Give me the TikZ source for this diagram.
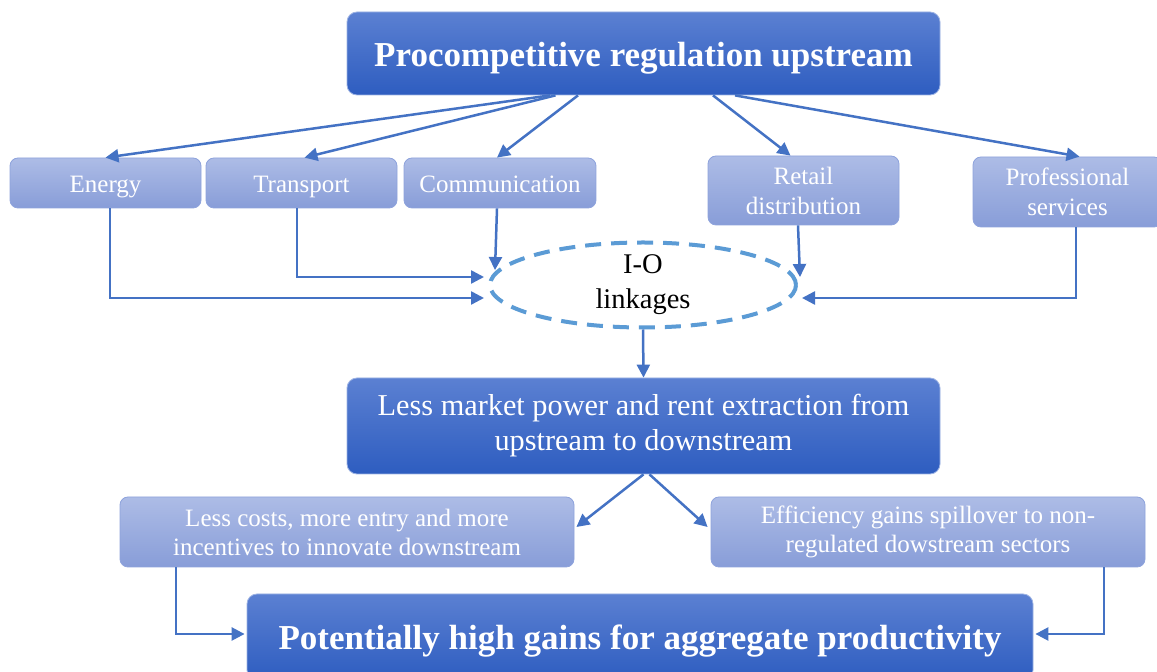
\documentclass[tikz,border=0pt]{standalone}
\usepackage{fontspec}
\setmainfont{Liberation Serif}
\usetikzlibrary{arrows.meta,shapes.geometric}
\definecolor{dtop}{HTML}{5B80D2}
\definecolor{dbot}{HTML}{2E5DC0}
\definecolor{ltop}{HTML}{ADBCE6}
\definecolor{lbot}{HTML}{889DD8}
\definecolor{lborder}{HTML}{8EA3DC}
\definecolor{arrc}{HTML}{4472C4}
\definecolor{ioc}{HTML}{5B9BD5}
\tikzset{
  darkbox/.style={rounded corners=10pt, top color=dtop, bottom color=dbot, draw=dtop!60!white, line width=0.8pt, text=white, inner sep=0pt, align=center},
  lightbox/.style={rounded corners=8pt, top color=ltop, bottom color=lbot, draw=lborder, line width=0.8pt, text=white, inner sep=0pt, align=center, font=\fontsize{25}{30}\selectfont},
  oneline/.style={text height=#1, text depth=0pt},
  arr/.style={draw=arrc, line width=2.5pt, -{Triangle[length=13pt,width=13pt]}},
}
\begin{document}
\begin{tikzpicture}[x=1pt,y=1pt]
\useasboundingbox (0,0) rectangle (1157,672);
\fill[white] (0,0) rectangle (1157,672);
% nodes
\node[darkbox, oneline=26pt, minimum width=593pt, minimum height=83pt, font=\bfseries\fontsize{35}{40}\selectfont] (top) at (643.5,618.5) {Procompetitive regulation upstream};
\node[lightbox, oneline=19.5pt, minimum width=191pt, minimum height=50pt] (energy) at (105.5,489) {Energy};
\node[lightbox, oneline=19.5pt, minimum width=191pt, minimum height=50pt] (transport) at (301.5,489) {Transport};
\node[lightbox, oneline=19.5pt, minimum width=192pt, minimum height=50pt] (comm) at (500,489) {Communication};
\node[lightbox, minimum width=191pt, minimum height=69pt] (retail) at (803.5,481.5) {Retail\\distribution};
\node[lightbox, minimum width=189pt, minimum height=70pt] (prof) at (1067.5,480) {Professional\\services};
\node[ellipse, draw=ioc, line width=4pt, dash pattern=on 16pt off 10pt, minimum width=306pt, minimum height=85pt, inner sep=0pt, align=center, font=\fontsize{28.5}{35}\selectfont] (io) at (643,387) {I-O\\linkages};
\node[darkbox, minimum width=593pt, minimum height=96pt, font=\fontsize{30.3}{35}\selectfont] (mid) at (643.5,246) {Less market power and rent extraction from\\upstream to downstream};
\node[lightbox, minimum width=454pt, minimum height=70pt, font=\fontsize{25}{29}\selectfont] (lowleft) at (347,140) {Less costs, more entry and more\\incentives to innovate downstream};
\node[lightbox, minimum width=434pt, minimum height=70pt, font=\fontsize{25}{29}\selectfont] (lowright) at (928,140) {Efficiency gains spillover to non-\\regulated dowstream sectors};
\node[darkbox, oneline=26pt, minimum width=786pt, minimum height=86pt, font=\bfseries\fontsize{35}{40}\selectfont] (bottom) at (640,35) {Potentially high gains for aggregate productivity};
% connectors from top
\draw[arr] ([xshift=-93.5pt]top.south) -- (energy.north);
\draw[arr] ([xshift=-88pt]top.south) -- ([xshift=3pt]transport.north);
\draw[arr] ([xshift=-65.5pt]top.south) -- ([xshift=-3pt]comm.north);
\draw[arr] ([xshift=69.5pt]top.south) -- ([xshift=-13pt]retail.north);
\draw[arr] ([xshift=91.5pt]top.south) -- ([xshift=12pt]prof.north);
% into I-O linkages
\draw[arr] ([xshift=4.5pt]energy.south) |- ([shift={(-4pt,-13pt)}]io.west);
\draw[arr] ([xshift=-4.5pt]transport.south) |- ([shift={(-4pt,8pt)}]io.west);
\draw[arr] ([xshift=-3pt]comm.south) -- ([shift={(7pt,15pt)}]io.west);
\draw[arr] ([xshift=-5.5pt]retail.south) -- ([shift={(2pt,8pt)}]io.east);
\draw[arr] ([xshift=8.5pt]prof.south) |- ([shift={(4pt,-13pt)}]io.east);
% down the chain
\draw[arr] (io.south) -- (mid.north);
\draw[arr] (mid.south) -- ([shift={(2pt,5pt)}]lowleft.east);
\draw[arr] ([xshift=6pt]mid.south) -- ([shift={(-3pt,5pt)}]lowright.west);
\draw[arr] ([xshift=-171pt]lowleft.south) |- ([shift={(-2pt,3pt)}]bottom.west);
\draw[arr] ([xshift=176pt]lowright.south) |- ([shift={(2pt,3pt)}]bottom.east);
\end{tikzpicture}
\end{document}
